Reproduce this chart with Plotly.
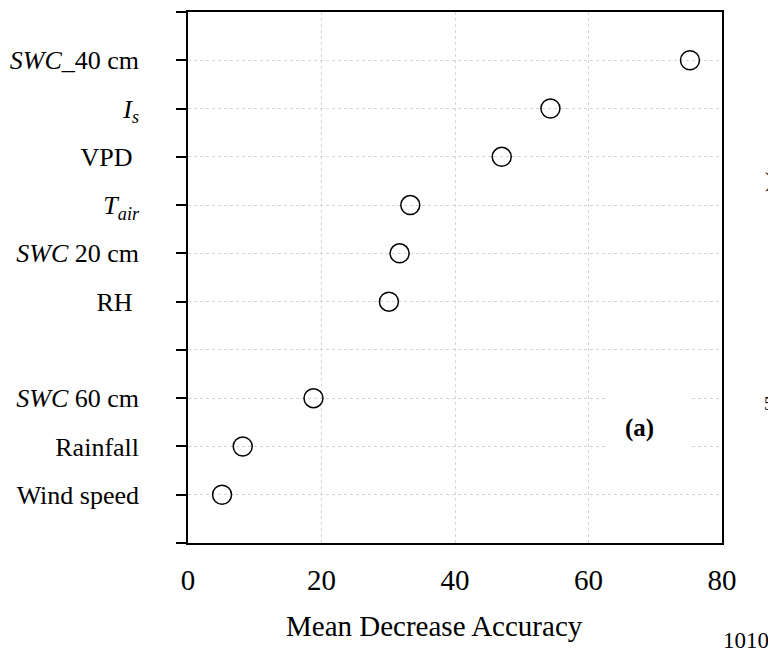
import plotly.graph_objects as go

categories = ["<i>SWC</i>_40 cm", "<i>I<sub>s</sub></i>", "VPD ", "<i>T<sub>air</sub></i>",
              "<i>SWC</i> 20 cm", "RH ", "", "<i>SWC</i> 60 cm", "Rainfall", "Wind speed"]
positions = [1, 2, 3, 4, 5, 6, 7, 8, 9, 10]
values = [75.2, 54.3, 47.0, 33.3, 31.7, 30.1, None, 18.8, 8.2, 5.1]
x_ticks = [0, 20, 40, 60, 80]
x_title = "Mean Decrease Accuracy"

FONT = "Liberation Serif"

pts_y = [p for p, v in zip(positions, values) if v is not None]
pts_x = [v for v in values if v is not None]

fig = go.Figure()
fig.add_trace(go.Scatter(
    x=pts_x, y=pts_y, mode="markers",
    marker=dict(symbol="circle-open", size=19, color="black", line=dict(width=1.5, color="black")),
    showlegend=False, cliponaxis=False,
))

fig.add_shape(type="rect", xref="x", yref="y", x0=62.5, x1=75.2, y0=7.4, y1=9.7,
              fillcolor="white", line=dict(width=0), layer="above")
fig.add_annotation(x=67.7, y=8.62, xref="x", yref="y", text="<b>(a)</b>", showarrow=False,
                   xanchor="center", yanchor="middle",
                   font=dict(family=FONT, size=25, color="black"))
# x-axis title as annotation (slightly left of centre, as in the source)
fig.add_annotation(x=0.462, y=-0.156, xref="paper", yref="paper", text=x_title, showarrow=False,
                   xanchor="center", yanchor="middle",
                   font=dict(family=FONT, size=29, color="black"))
# stray glyphs on the right edge of the source image
fig.add_annotation(x=1.088, y=0.685, xref="paper", yref="paper", text=")", showarrow=False,
                   xanchor="center", yanchor="middle",
                   font=dict(family=FONT, size=22, color="black"))
fig.add_annotation(x=1.088, y=0.261, xref="paper", yref="paper", text="5", showarrow=False,
                   xanchor="center", yanchor="middle",
                   font=dict(family=FONT, size=18, color="black"))
fig.add_annotation(x=1.045, y=-0.184, xref="paper", yref="paper", text="1010", showarrow=False,
                   xanchor="center", yanchor="middle",
                   font=dict(family=FONT, size=23, color="black"))

fig.update_layout(
    width=768, height=646,
    margin=dict(l=179, r=54, t=2, b=111),
    paper_bgcolor="white", plot_bgcolor="white",
    font=dict(family=FONT, color="black"),
    xaxis=dict(
        range=[0, 80], tickvals=x_ticks, ticktext=[str(t) for t in x_ticks],
        tickfont=dict(size=29, family=FONT), ticks="", ticklabelstandoff=10,
        showgrid=True, gridcolor="#d4d4d4", griddash="dot", gridwidth=1,
        showline=True, linecolor="black", linewidth=1.5, mirror=True, zeroline=False,
    ),
    yaxis=dict(
        range=[11, 0], tickvals=list(range(0, 12)),
        ticktext=[""] + categories + [""],
        tickfont=dict(size=26, family=FONT), ticks="outside", ticklen=10, tickwidth=1.5,
        tickcolor="black", ticklabelstandoff=32,
        showgrid=True, gridcolor="#d4d4d4", griddash="dot", gridwidth=1,
        showline=True, linecolor="black", linewidth=1.5, mirror=True, zeroline=False,
    ),
)
fig.write_html("out.html")
